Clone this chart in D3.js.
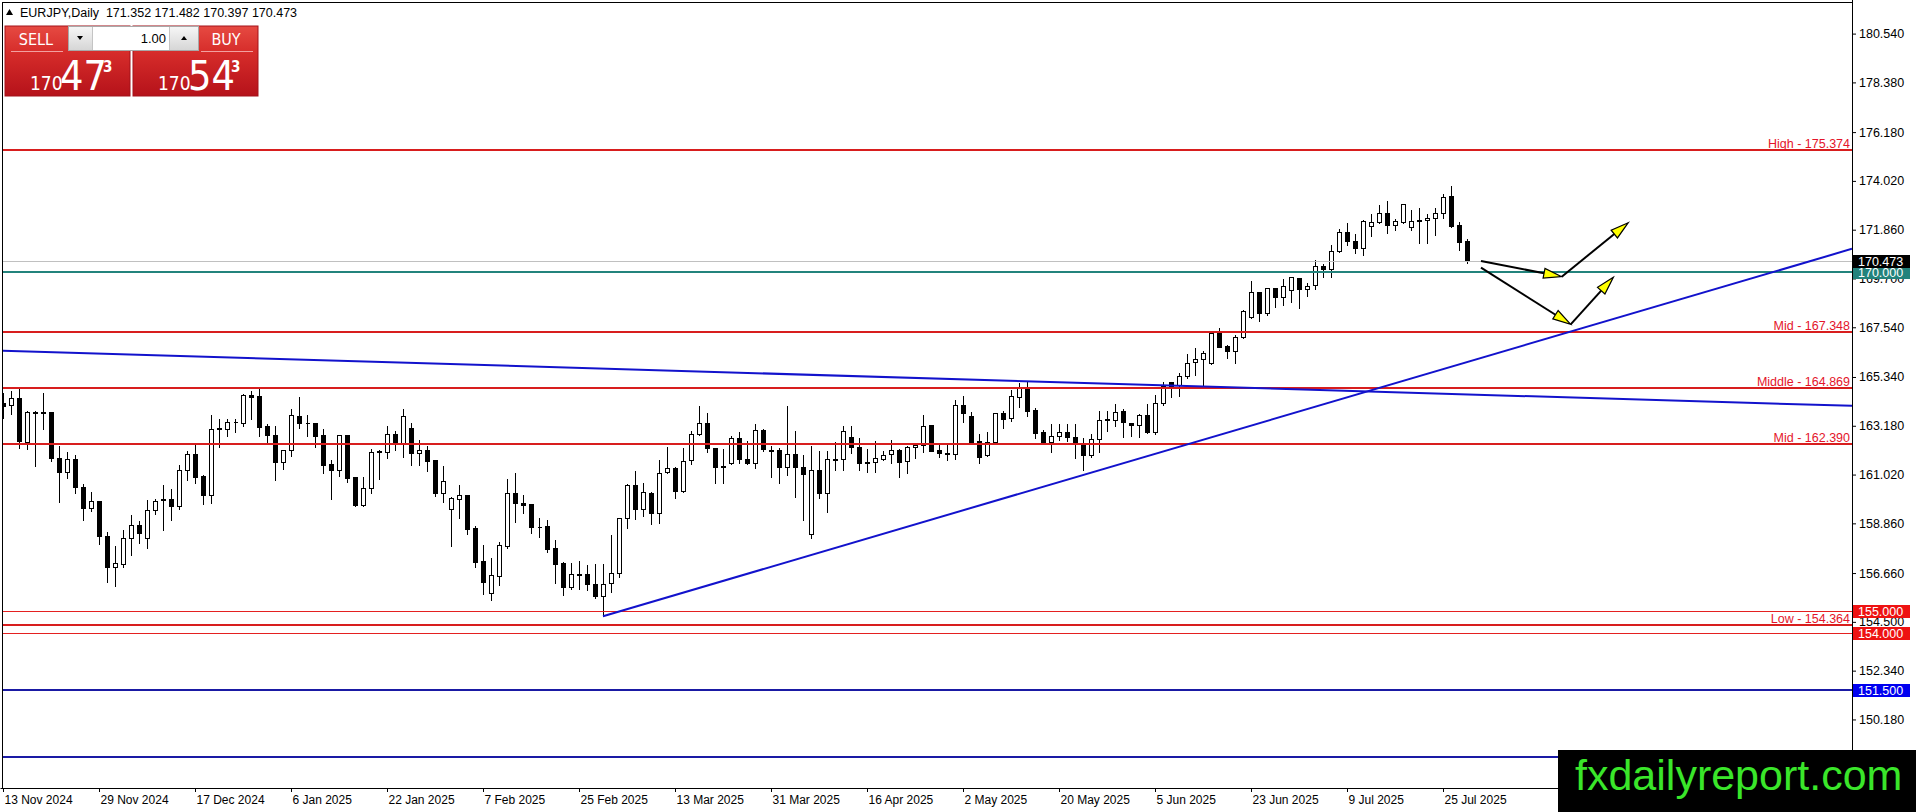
<!DOCTYPE html>
<html>
<head>
<meta charset="utf-8">
<script src="https://cdn.jsdelivr.net/npm/d3@7"></script>
<style>
  html, body { margin: 0; padding: 0; background: #fff; overflow: hidden; }
  svg { display: block; }
  text { font-family: "Liberation Sans", Arial, sans-serif; }
  .narrow { font-family: "Liberation Sans Narrow", "DejaVu Sans Condensed", "Liberation Sans", Arial, sans-serif; }
</style>
</head>
<body>
<div id="chart"></div>
<script>
// EURJPY daily bars, 13 Nov 2024 .. 30 Jul 2025
var opens = [
  164.19,164.09,164.43,162.46,163.81,163.75,163.78,161.77,161.15,161.73,
  160.49,159.56,159.87,158.30,156.93,157.08,158.19,158.80,158.23,159.47,
  159.90,159.93,159.63,161.21,161.95,160.94,160.13,163.04,163.05,163.36,
  163.31,164.56,164.49,163.16,162.79,161.58,162.10,163.60,163.32,163.31,
  162.76,161.48,161.24,162.79,160.91,159.66,160.44,162.02,162.02,162.83,
  162.42,163.10,161.98,162.12,161.65,160.22,159.51,159.96,160.13,158.66,
  157.18,155.79,156.53,157.86,160.22,159.78,159.70,158.72,158.73,157.76,
  157.09,156.05,156.59,156.61,156.19,155.65,156.22,156.65,159.09,160.55,
  159.48,160.19,159.34,161.12,161.30,160.30,161.65,162.80,163.31,162.18,
  161.40,161.52,162.63,161.70,161.52,163.00,162.11,162.11,161.34,161.92,
  161.34,158.39,161.20,160.19,161.68,161.70,162.70,162.23,161.56,161.56,
  161.73,161.92,162.11,161.62,162.23,162.32,163.22,162.11,161.96,161.92,
  164.10,163.62,162.51,161.87,162.45,163.76,163.51,164.47,164.84,163.88,
  162.89,162.47,162.74,162.92,162.67,162.37,161.88,162.58,163.46,163.43,
  163.85,163.29,163.21,163.66,162.92,164.17,165.13,164.98,165.40,165.99,
  166.12,165.94,167.30,166.71,166.50,167.09,168.01,169.12,168.16,169.26,
  168.86,169.19,169.71,169.23,169.41,170.27,170.10,170.92,171.74,171.37,
  171.03,172.02,172.21,172.61,172.05,172.21,171.96,172.27,172.29,172.36,
  172.58,173.35,172.07,171.352
];
var highs = [
  164.68,164.75,164.93,163.90,163.87,164.66,163.80,162.32,162.05,161.92,
  160.63,160.28,159.91,158.52,157.89,158.60,159.29,159.00,159.93,159.99,
  160.62,160.44,161.48,162.12,162.36,161.06,163.72,163.54,163.54,163.54,
  164.63,164.75,164.87,163.32,163.20,162.17,163.97,164.50,163.72,163.32,
  163.10,161.70,162.80,162.83,160.96,160.94,162.21,162.17,163.22,163.01,
  163.98,163.35,162.61,162.32,161.70,161.43,160.06,160.62,160.18,158.78,
  157.93,157.37,158.08,160.89,161.14,160.18,159.76,159.14,159.07,158.16,
  157.18,157.17,157.23,157.05,157.12,157.09,158.38,159.16,160.63,161.22,
  160.68,160.30,161.73,162.29,161.40,162.23,163.00,164.10,163.78,162.26,
  162.18,162.77,162.95,162.55,163.29,163.07,162.33,162.23,164.10,163.00,
  161.93,162.33,162.11,162.11,162.51,163.22,163.22,162.67,162.18,162.54,
  162.11,162.58,162.18,162.33,162.43,163.70,163.26,162.48,162.41,164.35,
  164.56,163.84,162.85,162.97,163.81,163.88,164.80,165.13,165.20,163.99,
  163.04,163.29,163.29,163.29,163.29,162.70,162.84,163.88,163.88,164.17,
  163.95,163.33,163.76,164.17,164.59,165.18,165.18,165.54,166.39,166.65,
  166.53,167.30,167.57,166.78,167.23,168.33,169.63,169.16,169.34,169.34,
  169.71,169.81,169.73,169.56,170.55,170.37,171.23,171.95,172.21,171.70,
  172.32,172.61,173.00,173.17,172.36,173.06,172.77,172.88,172.61,172.85,
  173.50,173.84,172.26,171.482
];
var lows = [
  163.54,163.72,162.20,162.17,161.39,163.05,161.62,159.81,160.89,160.22,
  159.03,159.41,157.96,156.28,156.09,156.93,157.48,157.99,157.79,159.29,
  158.58,159.03,159.50,160.77,160.66,159.73,159.78,162.24,162.73,162.91,
  163.17,163.50,162.72,162.39,160.80,161.27,161.84,163.08,162.73,162.24,
  161.09,159.96,160.97,160.69,159.63,159.63,160.22,160.84,161.76,162.10,
  161.80,161.46,161.46,161.18,160.07,159.81,157.86,159.10,158.41,156.93,
  155.75,155.48,156.12,157.79,158.92,159.32,158.44,158.26,157.59,156.22,
  155.69,155.94,155.96,155.93,155.57,154.75,155.82,156.50,158.64,159.04,
  159.20,158.82,158.89,161.11,159.97,160.27,161.48,162.77,162.04,160.66,
  160.66,161.50,161.55,161.49,161.30,162.08,160.93,160.66,161.00,160.01,
  159.01,158.20,159.97,159.38,161.22,161.20,161.99,161.22,161.15,161.15,
  161.67,161.52,160.90,161.08,161.77,162.04,162.05,161.81,161.67,161.71,
  163.36,162.45,161.52,161.84,162.40,163.07,163.40,164.02,163.61,162.65,
  162.40,162.03,162.55,162.52,161.74,161.22,161.81,162.03,162.96,163.17,
  162.70,162.74,162.70,162.84,162.80,164.08,164.44,164.50,165.28,165.41,
  164.91,165.91,166.65,166.19,165.94,167.05,167.93,167.83,168.08,168.45,
  168.52,168.67,168.38,168.94,169.22,169.75,169.78,170.89,171.17,170.84,
  170.72,171.59,172.17,171.73,171.85,172.14,171.83,171.28,171.28,171.62,
  172.39,171.99,170.96,170.397
];
var closes = [
  164.07,164.43,162.51,163.79,163.76,163.78,161.76,161.15,161.73,160.47,
  159.56,159.87,158.32,156.93,157.12,158.19,158.80,158.45,159.47,159.85,
  159.93,159.65,161.24,161.95,160.91,160.13,163.05,163.07,163.36,163.33,
  164.56,164.46,163.13,162.79,161.58,162.10,163.64,163.31,163.29,162.73,
  161.46,161.24,162.76,160.87,159.66,160.44,162.02,162.05,162.83,162.42,
  163.60,161.98,162.10,161.64,160.21,160.72,159.99,160.10,158.61,157.15,
  156.27,156.56,157.89,160.22,159.76,159.69,158.70,158.69,157.71,157.06,
  156.05,156.61,156.62,156.19,155.65,156.19,156.68,159.09,160.55,159.48,
  160.27,159.34,161.11,161.30,160.30,161.62,162.80,163.29,162.18,161.37,
  161.37,162.63,161.70,161.52,163.00,162.14,162.07,161.34,161.92,161.34,
  161.03,161.20,160.19,161.70,161.71,162.95,162.23,161.55,161.53,161.74,
  161.89,162.11,161.59,162.23,162.33,163.17,162.08,161.96,161.93,164.10,
  163.73,162.48,161.81,162.48,163.76,163.47,164.50,164.84,163.85,162.87,
  162.47,162.74,162.92,162.67,162.37,161.88,162.58,163.43,163.43,163.80,
  163.36,163.21,163.66,162.92,164.17,164.95,164.94,165.40,165.97,166.12,
  166.39,167.27,166.68,166.50,167.09,168.26,169.09,168.16,169.26,168.86,
  169.38,169.75,169.22,169.38,170.27,170.10,170.92,171.74,171.37,171.03,
  172.24,172.21,172.61,172.05,172.23,172.98,172.23,172.24,172.36,172.58,
  173.32,172.02,171.30,170.473
];

// time axis: one label every 12 bars
var dateLabels = ["13 Nov 2024","29 Nov 2024","17 Dec 2024","6 Jan 2025","22 Jan 2025",
  "7 Feb 2025","25 Feb 2025","13 Mar 2025","31 Mar 2025","16 Apr 2025","2 May 2025",
  "20 May 2025","5 Jun 2025","23 Jun 2025","9 Jul 2025","25 Jul 2025"];
var barsPerLabel = 12;

// price scale labels
var priceLabels = ["180.540","178.380","176.180","174.020","171.860","169.700","167.540",
  "165.340","163.180","161.020","158.860","156.660","154.500","152.340","150.180"];

// drawn objects
var levelNames = ["High","Mid","Middle","Mid","Low"];
var levelValues = [175.374, 167.348, 164.869, 162.390, 154.364];
var thinRedLevels = [155.000, 154.000];
var blueLevels = [151.500, 148.500];
var pivotLevel = 170.000;

// trend lines as [bar, price] anchors
var risingTrend = [[75, 154.75], [183, 166.00]];
var fallingTrend = [[0, 166.50], [183, 164.57]];

// projection arrows, [bar, price] from -> to
var arrowLegs = [
  [[184.75, 170.47], [194.84, 169.78]],
  [[194.84, 169.78], [203.16, 172.17]],
  [[184.75, 170.18], [195.96, 167.67]],
  [[195.96, 167.67], [201.29, 169.75]]
];

var symbolName = "EURJPY,Daily";
var bidPrice = 170.473;
var askPrice = 170.543;
var lotSize = "1.00";
var siteName = "fxdailyreport.com";

var width = 1916, height = 812;
var plotRight = 1852, plotBottom = 788;

var svg = d3.select("#chart").append("svg")
    .attr("width", width)
    .attr("height", height);

svg.append("rect").attr("width", width).attr("height", height).attr("fill", "#fff");

var defs = svg.append("defs");
defs.append("clipPath").attr("id", "plotClip")
    .append("rect").attr("x", 3).attr("y", 3)
    .attr("width", plotRight - 3).attr("height", plotBottom - 3);

var grad = defs.append("linearGradient").attr("id", "redBox")
    .attr("x1", 0).attr("y1", 0).attr("x2", 0).attr("y2", 1);
grad.append("stop").attr("offset", "0%").attr("stop-color", "#e64a42");
grad.append("stop").attr("offset", "38%").attr("stop-color", "#d62c2a");
grad.append("stop").attr("offset", "100%").attr("stop-color", "#b5121a");

var btnGrad = defs.append("linearGradient").attr("id", "greyBtn")
    .attr("x1", 0).attr("y1", 0).attr("x2", 0).attr("y2", 1);
btnGrad.append("stop").attr("offset", "0%").attr("stop-color", "#f6f6f6");
btnGrad.append("stop").attr("offset", "100%").attr("stop-color", "#d6d6d6");

var x = d3.scaleLinear().domain([-0.375, 231.125]).range([0, plotRight]);
var y = d3.scaleLinear().domain([147.145, 181.895]).range([plotBottom, 3]);

var px = function(i){ return Math.round(x(i)) + 0.5; };
var py = function(v){ return Math.round(y(v)) + 0.5; };

var plot = svg.append("g").attr("clip-path", "url(#plotClip)");

// candles
var bars = closes.map(function(c, i){
    return {i: i, o: opens[i], h: highs[i], l: lows[i], c: c};
});

var candle = plot.selectAll("g.bar")
    .data(bars)
    .enter().append("g").attr("class", "bar");

candle.append("line")
    .attr("x1", function(d){ return px(d.i); })
    .attr("x2", function(d){ return px(d.i); })
    .attr("y1", function(d){ return py(d.h); })
    .attr("y2", function(d){ return py(d.l); })
    .attr("stroke", "#000")
    .attr("shape-rendering", "crispEdges");

candle.append("path")
    .attr("d", function(d){
        var x0 = px(d.i) - 2, x1 = px(d.i) + 2;
        var y0 = py(Math.max(d.o, d.c)), y1 = py(Math.min(d.o, d.c));
        return "M" + x0 + "," + y0 + "H" + x1 + "V" + y1 + "H" + x0 + "Z";
    })
    .attr("fill", function(d){ return d.c >= d.o ? "#fff" : "#000"; })
    .attr("stroke", "#000")
    .attr("shape-rendering", "crispEdges");

// horizontal lines
function hline(v, color, w){
    var yy = w % 2 ? py(v) : Math.round(y(v));
    plot.append("line")
        .attr("x1", 0).attr("x2", plotRight)
        .attr("y1", yy).attr("y2", yy)
        .attr("stroke", color)
        .attr("stroke-width", w)
        .attr("shape-rendering", "crispEdges");
}

hline(bidPrice, "#c0c0c0", 1);
hline(pivotLevel, "#23837c", 2);
thinRedLevels.forEach(function(v){ hline(v, "#e42020", 1); });
blueLevels.forEach(function(v){ hline(v, "#1a1aa4", 2); });
levelValues.forEach(function(v){ hline(v, "#d81e1e", 2); });

// trend lines
function trend(pts, fromLeft){
    var s = (pts[1][1] - pts[0][1]) / (pts[1][0] - pts[0][0]);
    var d0 = fromLeft ? x.domain()[0] : pts[0][0];
    var d1 = x.domain()[1];
    plot.append("line")
        .attr("x1", x(d0)).attr("y1", y(pts[0][1] + s * (d0 - pts[0][0])))
        .attr("x2", x(d1)).attr("y2", y(pts[0][1] + s * (d1 - pts[0][0])))
        .attr("stroke", "#1212cc")
        .attr("stroke-width", 2);
}
trend(fallingTrend, true);
trend(risingTrend, false);

// level captions
plot.selectAll("text.lvl")
    .data(levelValues)
    .enter().append("text")
    .attr("class", "lvl")
    .attr("x", plotRight - 2)
    .attr("y", function(d){ return Math.round(y(d)) - 2; })
    .attr("text-anchor", "end")
    .attr("font-size", 12.5)
    .attr("fill", "#e4142a")
    .text(function(d, i){ return levelNames[i] + " - " + d.toFixed(3); });

// arrows
var arrowG = plot.append("g");
arrowLegs.forEach(function(leg){
    var x0 = x(leg[0][0]), y0 = y(leg[0][1]);
    var x1 = x(leg[1][0]), y1 = y(leg[1][1]);
    var a = Math.atan2(y1 - y0, x1 - x0), L = 18, W = 5;
    var bx = x1 - L * Math.cos(a), by = y1 - L * Math.sin(a);
    arrowG.append("line")
        .attr("x1", x0).attr("y1", y0).attr("x2", bx).attr("y2", by)
        .attr("stroke", "#000").attr("stroke-width", 2);
    arrowG.append("path")
        .attr("d", "M" + x1 + "," + y1 +
            "L" + (bx + W * Math.sin(a)) + "," + (by - W * Math.cos(a)) +
            "L" + (bx - W * Math.sin(a)) + "," + (by + W * Math.cos(a)) + "Z")
        .attr("fill", "#ffff00")
        .attr("stroke", "#000")
        .attr("stroke-width", 1.2)
        .attr("stroke-linejoin", "miter");
});

// frame
svg.append("line").attr("x1", 2).attr("x2", plotRight).attr("y1", 2.5).attr("y2", 2.5)
    .attr("stroke", "#000").attr("shape-rendering", "crispEdges");
svg.append("line").attr("x1", 2.5).attr("x2", 2.5).attr("y1", 2).attr("y2", plotBottom)
    .attr("stroke", "#000").attr("shape-rendering", "crispEdges");
svg.append("line").attr("x1", plotRight + 0.5).attr("x2", plotRight + 0.5).attr("y1", 0).attr("y2", height)
    .attr("stroke", "#000").attr("shape-rendering", "crispEdges");

// price axis
var yAxis = d3.axisRight(y)
    .tickValues(priceLabels.map(Number))
    .tickFormat(function(d){ return d.toFixed(3); })
    .tickSize(4)
    .tickSizeOuter(0)
    .tickPadding(3);

var gy = svg.append("g")
    .attr("transform", "translate(" + plotRight + ",0)")
    .call(yAxis);
gy.attr("font-size", 12.5).attr("font-family", null);
gy.select(".domain").remove();
gy.selectAll("text").attr("fill", "#000");

// time axis
var xAxis = d3.axisBottom(x)
    .tickValues(dateLabels.map(function(d, i){ return i * barsPerLabel; }))
    .tickFormat(function(d, i){ return dateLabels[i]; })
    .tickSize(4)
    .tickSizeOuter(0)
    .tickPadding(3);

var gx = svg.append("g")
    .attr("transform", "translate(0," + plotBottom + ")")
    .call(xAxis);
gx.attr("font-size", 12).attr("font-family", null);
gx.selectAll("text").attr("text-anchor", "start").attr("dx", 1).attr("fill", "#000");

// price tags on the axis
var tagList = [
    {v: pivotLevel, fill: "#23837c"},
    {v: bidPrice, fill: "#000"},
    {v: thinRedLevels[0], fill: "#ee1212"},
    {v: thinRedLevels[1], fill: "#ee1212"},
    {v: blueLevels[0], fill: "#0000f0"},
    {v: blueLevels[1], fill: "#0000f0"}
];
var tags = svg.selectAll("g.tag").data(tagList).enter().append("g").attr("class", "tag");
tags.append("rect")
    .attr("x", plotRight + 1)
    .attr("y", function(d){ return Math.round(y(d.v)) - 6; })
    .attr("width", 57)
    .attr("height", 13)
    .attr("fill", function(d){ return d.fill; });
tags.append("text")
    .attr("x", plotRight + 6)
    .attr("y", function(d){ return Math.round(y(d.v)) + 5; })
    .attr("font-size", 12.5)
    .attr("fill", "#fff")
    .text(function(d){ return d.v.toFixed(3); });

// title line
svg.append("path").attr("d", "M6,15L9.5,9L13,15Z").attr("fill", "#000");
svg.append("text")
    .attr("x", 20).attr("y", 17)
    .attr("font-size", 12.5)
    .attr("fill", "#000")
    .style("white-space", "pre")
    .text(symbolName + "  " + [opens[183], highs[183], lows[183], closes[183]]
        .map(function(v){ return v.toFixed(3); }).join(" "));

// one click trading panel
function quoteBox(left, label, labelX, price){
    var g = svg.append("g");
    g.append("rect").attr("x", left).attr("y", 26).attr("width", 125).attr("height", 70)
        .attr("fill", "url(#redBox)").attr("stroke", "#a3121a").attr("stroke-width", 1);
    g.append("line").attr("x1", labelX - 25).attr("x2", labelX + 27)
        .attr("y1", 51.5).attr("y2", 51.5).attr("stroke", "#f2a0a0");
    g.append("text").attr("class", "narrow")
        .attr("x", labelX).attr("y", 45)
        .attr("text-anchor", "middle")
        .attr("font-size", 16).attr("fill", "#fff")
        .text(label);
    var s = price.toFixed(3);
    g.append("text").attr("class", "narrow")
        .attr("x", left + 25).attr("y", 90).attr("font-size", 19).attr("fill", "#fff")
        .text(s.slice(0, 3));
    g.append("text").attr("class", "narrow")
        .attr("x", left + 55).attr("y", 90).attr("font-size", 41).attr("fill", "#fff")
        .text(s.slice(4, 6));
    g.append("text").attr("class", "narrow")
        .attr("x", left + 98).attr("y", 72).attr("font-size", 15).attr("font-weight", "bold").attr("fill", "#fff")
        .text(s.slice(6));
}
quoteBox(5, "SELL", 36, bidPrice);
quoteBox(133, "BUY", 226, askPrice);

// lot spinner
var spin = svg.append("g");
spin.append("rect").attr("x", 68.5).attr("y", 26.5).attr("width", 130).attr("height", 24)
    .attr("fill", "#fff").attr("stroke", "#a8a8a8");
spin.append("rect").attr("x", 69).attr("y", 27).attr("width", 23).attr("height", 23).attr("fill", "url(#greyBtn)");
spin.append("rect").attr("x", 170).attr("y", 27).attr("width", 28).attr("height", 23).attr("fill", "url(#greyBtn)");
spin.append("line").attr("x1", 92.5).attr("x2", 92.5).attr("y1", 27).attr("y2", 50).attr("stroke", "#c4c4c4");
spin.append("line").attr("x1", 169.5).attr("x2", 169.5).attr("y1", 27).attr("y2", 50).attr("stroke", "#c4c4c4");
spin.append("path").attr("d", "M77,36L83,36L80,40Z").attr("fill", "#000");
spin.append("path").attr("d", "M181,40L187,40L184,36Z").attr("fill", "#000");
spin.append("text").attr("x", 166).attr("y", 43).attr("text-anchor", "end")
    .attr("font-size", 13).attr("fill", "#000").text(lotSize);

// watermark
svg.append("rect").attr("x", 1558).attr("y", 750).attr("width", width - 1558).attr("height", height - 750)
    .attr("fill", "#000");
svg.append("text").attr("x", 1575).attr("y", 790)
    .attr("font-size", 43).attr("fill", "#3ae62a")
    .text(siteName);
</script>
</body>
</html>
